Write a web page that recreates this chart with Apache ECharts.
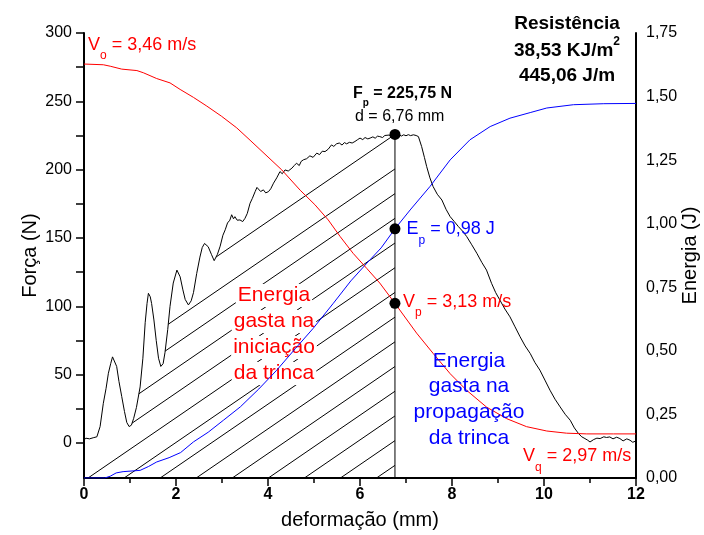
<!DOCTYPE html>
<html>
<head>
<meta charset="utf-8">
<script src="https://cdn.jsdelivr.net/npm/echarts@6/dist/echarts.min.js"></script>
<style>
  html, body { margin: 0; padding: 0; background: #fff; }
  #chart { width: 704px; height: 535px; }
</style>
</head>
<body>
<div id="chart"></div>
<script>
// Force vs. deformation (N, mm)
const forceX = [0.00,0.04,0.08,0.12,0.16,0.20,0.24,0.28,0.35,0.42,0.48,0.53,0.58,0.62,0.66,0.71,0.76,0.82,0.88,0.93,
  0.98,1.03,1.08,1.14,1.22,1.28,1.33,1.37,1.40,1.44,1.47,1.52,1.57,1.62,1.67,1.72,1.76,1.82,1.87,1.94,
  2.02,2.09,2.15,2.20,2.27,2.33,2.38,2.45,2.52,2.57,2.62,2.70,2.77,2.83,2.90,2.96,3.02,3.07,3.12,3.17,
  3.21,3.25,3.28,3.33,3.39,3.45,3.50,3.55,3.61,3.66,3.72,3.76,3.79,3.84,3.90,3.95,4.01,4.06,4.12,4.19,
  4.26,4.31,4.37,4.44,4.52,4.57,4.62,4.68,4.72,4.77,4.84,4.91,4.98,5.06,5.12,5.18,5.24,5.31,5.38,5.43,
  5.49,5.55,5.61,5.66,5.71,5.77,5.83,5.89,5.95,6.00,6.06,6.11,6.17,6.22,6.28,6.33,6.38,6.43,6.49,6.54,
  6.58,6.63,6.68,6.72,6.76,6.80,6.85,6.90,6.95,7.00,7.05,7.10,7.16,7.22,7.27,7.34,7.40,7.45,7.52,7.59,
  7.68,7.78,7.87,7.96,8.05,8.14,8.23,8.32,8.43,8.54,8.65,8.75,8.86,8.95,9.04,9.15,9.26,9.37,9.48,9.59,
  9.70,9.80,9.91,10.02,10.13,10.24,10.35,10.46,10.57,10.66,10.75,10.82,10.89,10.95,11.00,11.08,11.15,11.22,11.30,11.36,
  11.43,11.50,11.58,11.65,11.72,11.80,11.87,11.93,12.00];
const forceN = [2.0,3.5,2.2,3.0,2.0,3.8,2.8,4.5,12,29,40,51,58,63,62,56,45,34,23,15,
  12,13,18,26,41,62,88,102,109.5,107,102,90,75,62,56,58,66,83,100,117,
  126.5,121.6,112,105,101,104,110,124,136,143,146,143.6,138,133.4,138,144,152,156,161,163,
  167,164,165.6,163,163.2,162,164.4,168,175.4,179,183.9,187,186.4,184,185.2,183,183.9,186,190.1,194,
  198.6,197,199.8,199,201.1,203,204.7,203,206,207.2,208,210.1,209,212.1,211,213.5,213.2,215,218.1,217,
  218.9,219.5,218,219.8,218.9,220,219.5,220.6,222,223.1,222,223.5,222.5,223.1,224,223,224.5,224.2,223.5,225,
  224.7,225.3,224.5,225.5,225.75,224.8,225.5,224.6,225.5,224.8,225.6,224.9,225.5,225,224.2,216.9,209,202.2,194,187.6,
  182,177.8,171,165.6,162,158.3,155,151,145,138.8,132,126.5,116.8,110,104.6,98,92.3,85,77.7,71,
  65.5,59,53.3,46,38.6,32,26.4,21,16.6,11,6.9,4.5,3.2,2.0,0.7,2.5,3.5,3.2,4.5,4.0,
  4.4,3.0,4.2,3.2,1.5,3.0,2.0,0.5,1.5];

// Absorbed energy (J)
const energyX = [0,0.45,0.57,0.70,0.85,1.00,1.22,1.40,1.58,1.85,2.10,2.38,2.70,3.03,3.40,3.80,4.19,4.60,4.98,5.42,
  5.80,6.15,6.46,6.76,7.09,7.52,7.96,8.39,8.83,9.26,9.70,10.06,10.64,11.30,12.00];
const energyJ = [0,0,0.007,0.02,0.025,0.027,0.03,0.045,0.063,0.08,0.10,0.142,0.18,0.227,0.28,0.35,0.424,0.51,0.588,0.687,
  0.775,0.845,0.905,0.98,1.054,1.146,1.251,1.33,1.382,1.415,1.437,1.455,1.468,1.472,1.473];

// Striker velocity (m/s)
const speedX = [0,0.42,0.57,0.82,1.15,1.29,1.58,1.87,2.09,2.38,2.67,2.99,3.32,3.61,4.30,4.70,5.02,5.31,5.57,5.85,
  6.15,6.43,6.76,7.23,7.59,7.96,8.32,8.75,9.19,9.62,10.06,10.49,10.93,11.51,12.00];
const speedMS = [3.460,3.459,3.457,3.453,3.451,3.448,3.440,3.434,3.425,3.414,3.402,3.388,3.372,3.355,3.314,3.286,3.266,3.245,3.222,3.199,
  3.178,3.158,3.130,3.089,3.061,3.033,3.010,2.987,2.971,2.960,2.954,2.951,2.950,2.950,2.950];

// Maximum-load point
const peakX = 6.76, peakF = 225.75, peakE = 0.98, peakV = 3.13;

// Axis ranges and ticks
const deformRange = [0, 12];
const forceRange = [-25.65, 300];
const energyRange = [0, 1.75];
const speedRange = [2.8892, 3.5028];
const forceLabels = [0, 50, 100, 150, 200, 250, 300];
const forceTicks = [0, 25, 50, 75, 100, 125, 150, 175, 200, 225, 250, 275, 300];

// Hatching of the crack-initiation energy area (pixels)
const HATCH_SLOPE = 0.685, HATCH_FIRST_GAP = 34.5, HATCH_GAP = 24.7;

const FONT = '"Liberation Sans", Arial, sans-serif';
const measureCtx = document.createElement('canvas').getContext('2d');
function textWidth(t, size, weight) {
  measureCtx.font = weight + ' ' + size + 'px ' + FONT;
  return measureCtx.measureText(t).width;
}
// Text made of runs with optional subscript / superscript parts
function richLabel(x, y, parts, opt) {
  const size = opt.size, weight = opt.weight || 'normal';
  const small = Math.round(size * 0.65);
  let total = 0;
  const widths = parts.map(p => { const w = textWidth(p[0], p[1] ? small : size, weight); total += w; return w; });
  let cx = opt.align === 'center' ? x - total / 2 : x;
  return parts.map((p, i) => {
    const s = p[1] ? small : size;
    const dy = p[1] === 'sub' ? size * 0.6 : (p[1] === 'sup' ? -size * 0.47 : 0);
    const el = {
      type: 'text', z: 20, silent: true, x: cx, y: y + dy,
      style: { text: p[0], fill: opt.color, font: weight + ' ' + s + 'px ' + FONT,
               textAlign: 'left', textVerticalAlign: 'middle', verticalAlign: 'middle' }
    };
    cx += widths[i];
    return el;
  });
}
function block(cx, ys, lines, color, size, bg) {
  return lines.map((t, i) => ({
    type: 'text', z: bg ? 3 : 20, silent: true, x: cx, y: ys[i],
    style: Object.assign({ text: t, fill: color, font: 'normal ' + size + 'px ' + FONT,
      textAlign: 'center', textVerticalAlign: 'middle', verticalAlign: 'middle' },
      bg ? { backgroundColor: '#fff', padding: [1, 2] } : {})
  }));
}

function renderHatch(params, api) {
  const pts = forceX.map((x, i) => api.coord([x, forceN[i]]));
  const top = api.coord([peakX, peakF]);
  const base = api.coord([deformRange[0], forceRange[0]]);
  const xv = top[0], yBot = base[1], x0 = base[0];
  const style = { stroke: '#000', lineWidth: 1 };
  const children = [{ type: 'line', shape: { x1: xv, y1: yBot, x2: xv, y2: top[1] }, style }];
  const starts = [top[1]];
  for (let y = top[1] + HATCH_FIRST_GAP; y < yBot; y += HATCH_GAP) starts.push(y);
  starts.forEach(ys => {
    const lineY = x => ys + HATCH_SLOPE * (xv - x);
    let endX = Math.max(x0, xv - (yBot - ys) / HATCH_SLOPE);
    for (let i = 0; i < pts.length - 1; i++) {
      const ax = pts[i][0], ay = pts[i][1], bx = pts[i + 1][0], by = pts[i + 1][1];
      if (bx < endX || ax > xv - 2) continue;
      const da = lineY(ax) - ay, db = lineY(bx) - by;
      if ((da > 0) !== (db > 0)) {
        const cx = ax + (da / (da - db)) * (bx - ax);
        if (cx < xv - 2 && cx > endX) endX = cx;
      }
    }
    children.push({ type: 'line', shape: { x1: xv, y1: ys, x2: endX, y2: lineY(endX) }, style });
  });
  return { type: 'group', children };
}

const zip = (xs, ys) => xs.map((x, i) => [x, ys[i]]);
const axisText = { color: '#000', fontFamily: FONT, fontSize: 16 };
const blackLine = { color: '#000', width: 2 };
const dotStyle = { color: '#000', opacity: 1 };

const chart = echarts.init(document.getElementById('chart'), null, { renderer: 'canvas' });
chart.setOption({
  animation: false,
  backgroundColor: '#fff',
  grid: { left: 84, right: 68, top: 33, bottom: 57, containLabel: false, outerBoundsMode: 'none' },
  xAxis: {
    type: 'value', min: deformRange[0], max: deformRange[1], interval: 2,
    name: 'deformação (mm)', nameLocation: 'middle', nameGap: 32, nameMoveOverlap: false,
    nameTextStyle: { color: '#000', fontFamily: FONT, fontSize: 20 },
    axisLine: { onZero: false, lineStyle: blackLine },
    axisTick: { length: 8, lineStyle: { color: '#000', width: 1.5 } },
    minorTick: { show: true, splitNumber: 2, length: 5, lineStyle: { color: '#000', width: 1.5 } },
    splitLine: { show: false },
    axisLabel: Object.assign({ fontWeight: 'bold', margin: 9 }, axisText)
  },
  yAxis: [
    {
      type: 'value', position: 'left', min: forceRange[0], max: forceRange[1],
      name: 'Força (N)', nameLocation: 'middle', nameGap: 44, nameMoveOverlap: false,
      nameTextStyle: { color: '#000', fontFamily: FONT, fontSize: 20 },
      axisLine: { show: true, onZero: false, lineStyle: blackLine },
      axisTick: { show: true, length: 8, customValues: forceTicks, lineStyle: { color: '#000', width: 1.5 } },
      splitLine: { show: false },
      axisLabel: Object.assign({ customValues: forceLabels, margin: 12 }, axisText)
    },
    {
      type: 'value', position: 'right', min: energyRange[0], max: energyRange[1], interval: 0.25,
      name: 'Energia (J)', nameLocation: 'middle', nameGap: 44, nameMoveOverlap: false,
      nameTextStyle: { color: '#000', fontFamily: FONT, fontSize: 20 },
      axisLine: { show: true, onZero: false, lineStyle: blackLine },
      axisTick: { show: false },
      splitLine: { show: false },
      axisLabel: Object.assign({ margin: 10, formatter: v => v.toFixed(2).replace('.', ',') }, axisText)
    },
    { type: 'value', show: false, min: speedRange[0], max: speedRange[1], splitLine: { show: false } }
  ],
  series: [
    { type: 'custom', name: 'hatch', silent: true, z: 1, clip: false,
      xAxisIndex: 0, yAxisIndex: 0, data: [[0, 0]], renderItem: renderHatch },
    { type: 'line', name: 'Força', yAxisIndex: 0, data: zip(forceX, forceN), symbol: 'none',
      z: 5, lineStyle: { color: '#000', width: 1 } },
    { type: 'line', name: 'Energia', yAxisIndex: 1, data: zip(energyX, energyJ), symbol: 'none',
      z: 5, lineStyle: { color: '#0000ff', width: 1 } },
    { type: 'line', name: 'Velocidade', yAxisIndex: 2, data: zip(speedX, speedMS), symbol: 'none',
      z: 5, lineStyle: { color: '#ff0000', width: 1 } },
    { type: 'scatter', yAxisIndex: 0, data: [[peakX, peakF]], symbolSize: 11, z: 10, itemStyle: dotStyle },
    { type: 'scatter', yAxisIndex: 1, data: [[peakX, peakE]], symbolSize: 11, z: 10, itemStyle: dotStyle },
    { type: 'scatter', yAxisIndex: 2, data: [[peakX, peakV]], symbolSize: 11, z: 10, itemStyle: dotStyle }
  ],
  graphic: [].concat(
    richLabel(88, 45, [['V'], ['o', 'sub'], [' = 3,46 m/s']], { size: 18, color: '#ff0000' }),
    richLabel(353, 93.5, [['F'], ['p', 'sub'], [' = 225,75 N']], { size: 16, weight: 'bold', color: '#000' }),
    richLabel(355, 116.5, [['d = 6,76 mm']], { size: 16, color: '#000' }),
    richLabel(567, 23.5, [['Resistência']], { size: 19, weight: 'bold', color: '#000', align: 'center' }),
    richLabel(567, 50.5, [['38,53 KJ/m'], ['2', 'sup']], { size: 19, weight: 'bold', color: '#000', align: 'center' }),
    richLabel(567, 76, [['445,06 J/m']], { size: 19, weight: 'bold', color: '#000', align: 'center' }),
    richLabel(406.5, 229.5, [['E'], ['p', 'sub'], [' = 0,98 J']], { size: 18, color: '#0000ff' }),
    richLabel(403, 302, [['V'], ['p', 'sub'], [' = 3,13 m/s']], { size: 18, color: '#ff0000' }),
    richLabel(523, 456.5, [['V'], ['q', 'sub'], [' = 2,97 m/s']], { size: 18, color: '#ff0000' }),
    block(274, [373.4, 347.4, 321.4, 295.4], ['da trinca', 'iniciação', 'gasta na', 'Energia'], '#ff0000', 21, true),
    block(469, [361.7, 386.4, 412.4, 438.4], ['Energia', 'gasta na', 'propagação', 'da trinca'], '#0000ff', 21, false)
  )
});
</script>
</body>
</html>
